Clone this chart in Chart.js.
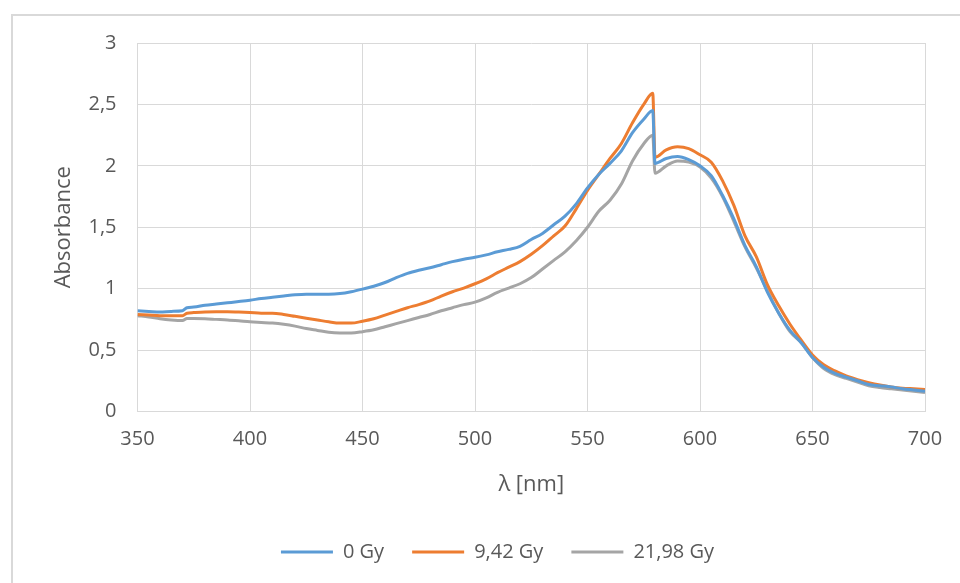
<!DOCTYPE html>
<html>
<head>
<meta charset="utf-8">
<script src="https://cdn.jsdelivr.net/npm/chart.js@4/dist/chart.umd.min.js"></script>
<style>
  html, body { margin: 0; padding: 0; background: #fff; }
  #wrap { width: 960px; height: 583px; position: relative; }
</style>
</head>
<body>
<div id="wrap"><canvas id="chart"></canvas></div>
<script>
// wavelength [nm]
const lambda = [350, 355, 360, 365, 370, 372, 375, 380, 385, 390, 395, 400, 405, 410, 415, 420, 425, 430, 435, 440,
  445, 450, 455, 460, 465, 470, 475, 480, 485, 490, 495, 500, 505, 510, 515, 520, 525, 530, 535, 540,
  545, 550, 555, 560, 565, 570, 575, 579, 580, 585, 590, 595, 600, 605, 610, 615, 620, 625, 630, 635,
  640, 645, 650, 655, 660, 665, 670, 675, 680, 685, 690, 695, 700];

const gy0 = [0.82, 0.815, 0.81, 0.815, 0.82, 0.845, 0.85, 0.865, 0.875, 0.885, 0.895, 0.906, 0.92, 0.93, 0.94, 0.95, 0.955, 0.955, 0.955, 0.96,
  0.975, 0.996, 1.02, 1.05, 1.09, 1.125, 1.15, 1.17, 1.195, 1.22, 1.24, 1.255, 1.275, 1.30, 1.32, 1.345, 1.40, 1.45, 1.52, 1.59,
  1.69, 1.82, 1.93, 2.02, 2.12, 2.27, 2.38, 2.45, 2.02, 2.06, 2.075, 2.05, 2.0, 1.92, 1.76, 1.57, 1.35, 1.18, 0.97, 0.80,
  0.66, 0.56, 0.44, 0.36, 0.31, 0.28, 0.25, 0.22, 0.21, 0.20, 0.185, 0.175, 0.165];

const gy942 = [0.79, 0.785, 0.78, 0.78, 0.78, 0.80, 0.805, 0.81, 0.812, 0.812, 0.81, 0.806, 0.80, 0.80, 0.79, 0.775, 0.76, 0.745, 0.73, 0.72,
  0.72, 0.735, 0.755, 0.785, 0.815, 0.845, 0.87, 0.90, 0.94, 0.975, 1.005, 1.04, 1.08, 1.13, 1.175, 1.22, 1.28, 1.35, 1.43, 1.51,
  1.65, 1.80, 1.93, 2.06, 2.18, 2.35, 2.50, 2.59, 2.07, 2.13, 2.155, 2.14, 2.09, 2.03, 1.88, 1.68, 1.43, 1.26, 1.03, 0.86,
  0.71, 0.58, 0.46, 0.38, 0.33, 0.29, 0.26, 0.235, 0.215, 0.20, 0.19, 0.185, 0.18];

const gy2198 = [0.78, 0.77, 0.755, 0.745, 0.74, 0.757, 0.757, 0.755, 0.75, 0.745, 0.738, 0.73, 0.725, 0.72, 0.71, 0.695, 0.675, 0.66, 0.645, 0.64,
  0.64, 0.65, 0.665, 0.69, 0.715, 0.74, 0.765, 0.79, 0.82, 0.845, 0.87, 0.89, 0.925, 0.97, 1.005, 1.04, 1.09, 1.16, 1.23, 1.30,
  1.39, 1.50, 1.63, 1.72, 1.85, 2.04, 2.18, 2.25, 1.94, 2.0, 2.04, 2.03, 1.99, 1.90, 1.75, 1.55, 1.34, 1.17, 0.98, 0.80,
  0.65, 0.56, 0.44, 0.35, 0.30, 0.27, 0.24, 0.21, 0.195, 0.185, 0.175, 0.165, 0.155];

const seriesNames = ["0 Gy", "9,42 Gy", "21,98 Gy"];
const seriesColors = ["#5B9BD5", "#ED7D31", "#A5A5A5"];
const yTickLabels = ["0", "0,5", "1", "1,5", "2", "2,5", "3"];
const xTitle = "\u03bb [nm]";
const yTitle = "Absorbance";

const pts = vals => vals.map((v, i) => ({ x: lambda[i], y: v }));
const textColor = "#595959";
const gridColor = "#D9D9D9";
const fontFamily = "'Open Sans', sans-serif";

// light frame round the chart, like the Excel chart area
const frame = {
  id: "frame",
  beforeDraw(chart) {
    const ctx = chart.ctx;
    ctx.save();
    ctx.fillStyle = "#fff";
    ctx.fillRect(0, 0, chart.width, chart.height);
    ctx.strokeStyle = "#D9D9D9";
    ctx.lineWidth = 2;
    ctx.strokeRect(12, 15, chart.width + 20, chart.height + 20);
    ctx.restore();
  },
  afterLayout(chart) {
    // Excel centres the legend on the whole chart, not the area left of the right padding
    chart.legend.left += 35;
    chart.legend.right += 35;
  }
};

new Chart(document.getElementById("chart"), {
  type: "line",
  data: {
    datasets: [gy0, gy942, gy2198].map((vals, i) => ({
      label: seriesNames[i],
      data: pts(vals),
      borderColor: seriesColors[i],
      backgroundColor: seriesColors[i],
      borderWidth: 3,
      pointRadius: 0,
      cubicInterpolationMode: "monotone"
    }))
  },
  options: {
    responsive: true,
    maintainAspectRatio: false,
    animation: false,
    layout: { padding: { left: 0, right: 35, top: 43, bottom: 11 } },
    plugins: {
      legend: {
        position: "bottom",
        labels: {
          usePointStyle: true,
          pointStyle: "line",
          pointStyleWidth: 52,
          padding: 28,
          color: textColor,
          font: { family: fontFamily, size: 20 }
        }
      },
      tooltip: { enabled: false }
    },
    scales: {
      x: {
        type: "linear",
        min: 350,
        max: 700,
        afterFit: s => { s.height = 102.5; },
        ticks: { stepSize: 50, padding: 16, color: textColor, font: { family: fontFamily, size: 20 } },
        grid: { color: gridColor, drawTicks: false },
        border: { color: gridColor },
        title: { display: true, text: xTitle, color: textColor, padding: { top: 0, bottom: 16 }, font: { family: fontFamily, size: 22 } }
      },
      y: {
        min: 0,
        max: 3,
        afterFit: s => { s.width = 137.5; },
        ticks: {
          stepSize: 0.5,
          padding: 21,
          color: textColor,
          font: { family: fontFamily, size: 20 },
          callback: v => yTickLabels[Math.round(v * 2)]
        },
        grid: { color: gridColor, drawTicks: false },
        border: { color: gridColor },
        title: { display: true, text: yTitle, color: textColor, padding: { top: 51, bottom: 0 }, font: { family: fontFamily, size: 22 } }
      }
    }
  },
  plugins: [frame]
});
</script>
</body>
</html>
